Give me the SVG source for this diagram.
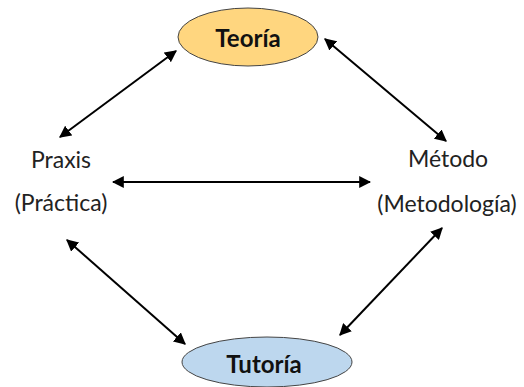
<svg xmlns="http://www.w3.org/2000/svg" width="524" height="387" viewBox="0 0 524 387">
<defs>
<style>
.lbl{font-family:Lato,"Open Sans","Liberation Sans",sans-serif;font-size:23px;fill:#222;text-anchor:middle}
.bold{font-weight:bold;fill:#111;font-size:24px}
.edge{stroke:#000;stroke-width:2;fill:none;marker-start:url(#ah);marker-end:url(#ah)}
.node{stroke:#444;stroke-width:1}
</style>
<marker id="ah" viewBox="0 0 10 10" refX="9" refY="5" markerWidth="6" markerHeight="6" orient="auto-start-reverse" markerUnits="strokeWidth">
<path d="M0,0 L10,5 L0,10 z" fill="#000"/>
</marker>
</defs>
<rect width="524" height="387" fill="#fff"/>
<g id="connectors">
<line class="edge" x1="60" y1="137" x2="176" y2="51"/>
<line class="edge" x1="325" y1="39" x2="446" y2="141"/>
<line class="edge" x1="113" y1="182" x2="370" y2="182"/>
<line class="edge" x1="67" y1="240" x2="185" y2="344"/>
<line class="edge" x1="442" y1="228" x2="340" y2="335"/>
</g>
<g id="teoria">
<ellipse class="node" cx="248" cy="37" rx="70" ry="29" fill="#FFD67F"/>
<text class="lbl bold" x="248" y="47">Teoría</text>
</g>
<g id="tutoria">
<ellipse class="node" cx="267" cy="362" rx="85" ry="25" fill="#BDD7EE"/>
<text class="lbl bold" x="264" y="373">Tutoría</text>
</g>
<g id="praxis">
<text class="lbl" x="61" y="168">Praxis</text>
<text class="lbl" x="61" y="211">(Práctica)</text>
</g>
<g id="metodo">
<text class="lbl" x="448" y="167">Método</text>
<text class="lbl" x="447" y="212">(Metodología)</text>
</g>
</svg>
